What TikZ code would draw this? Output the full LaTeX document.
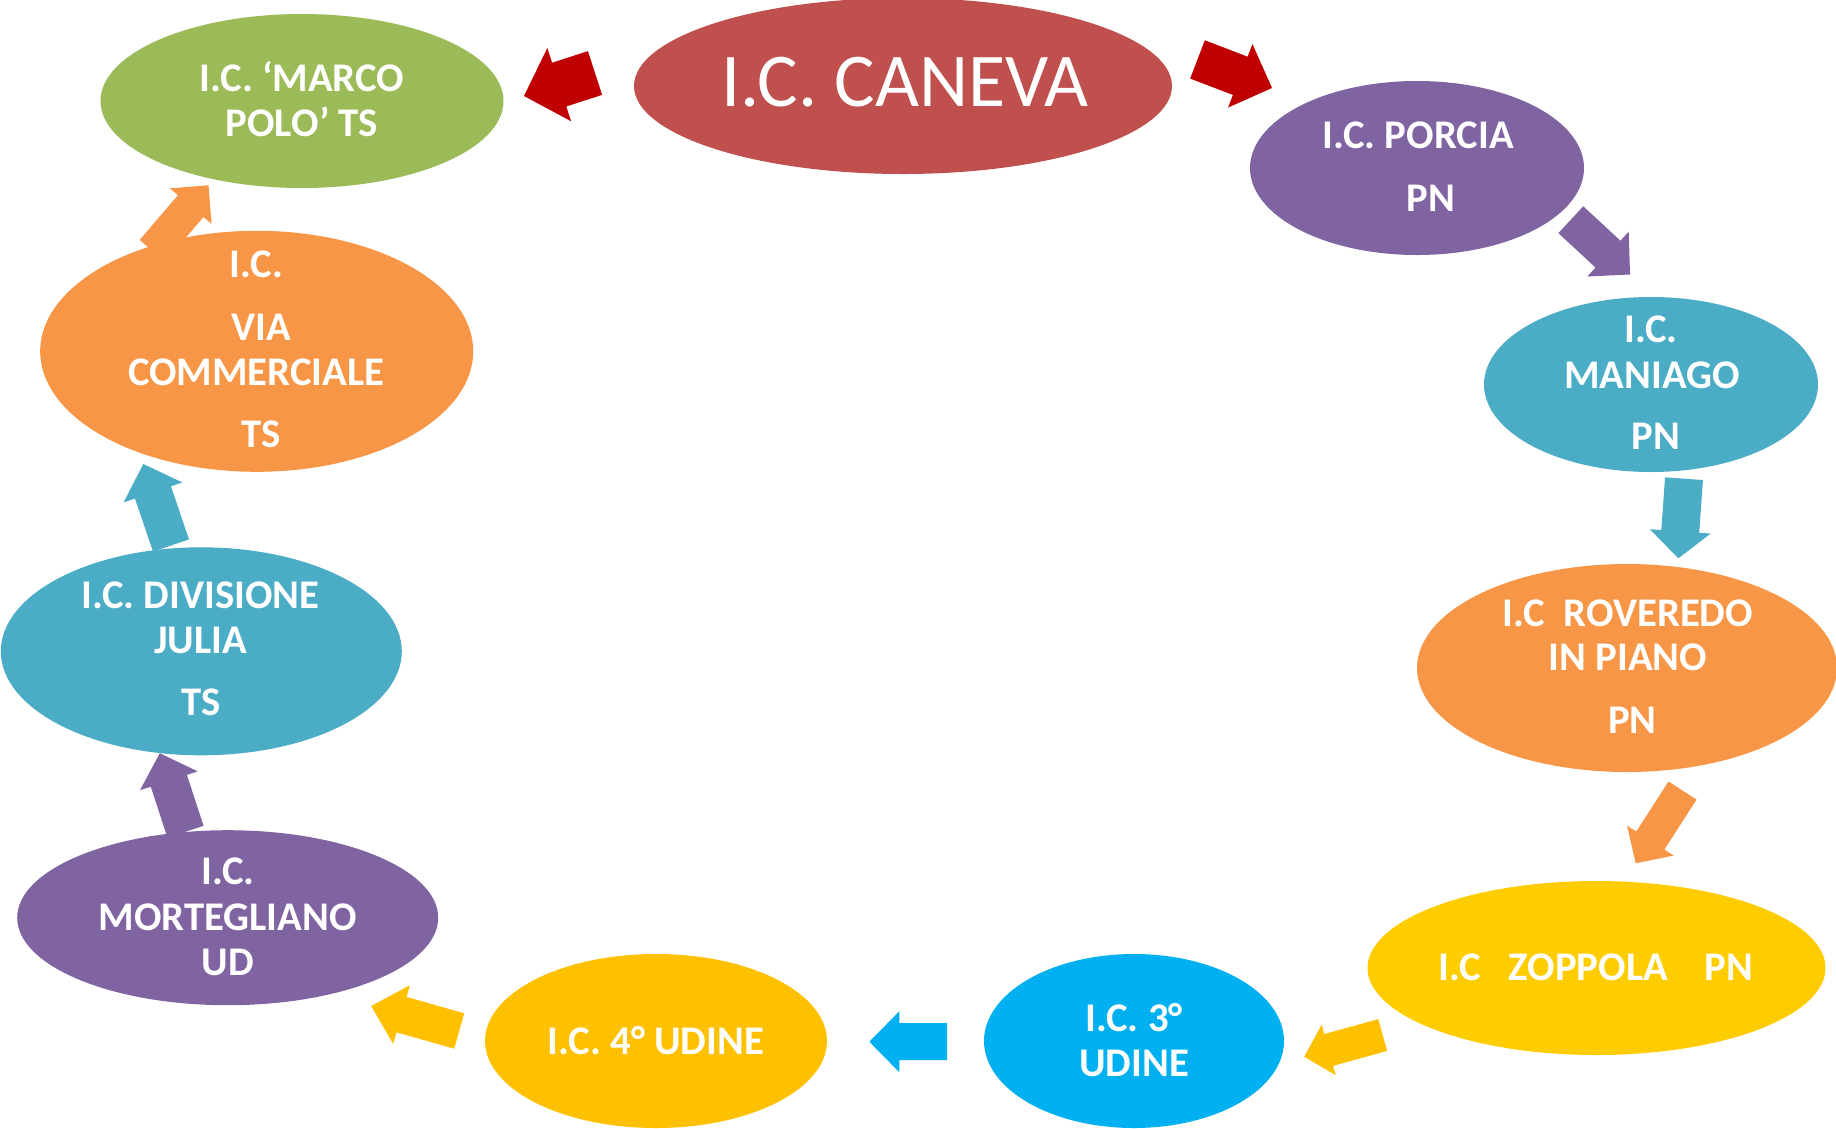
\documentclass[tikz,border=0pt]{standalone}
\usepackage{fontspec}
\setmainfont{Carlito}
\usetikzlibrary{shapes.geometric,calc}
\definecolor{cgreen}{HTML}{9BBB59}
\definecolor{cred}{HTML}{C0504D}
\definecolor{cdarkred}{HTML}{C00000}
\definecolor{cpurple}{HTML}{8064A2}
\definecolor{cteal}{HTML}{4BACC6}
\definecolor{corange}{HTML}{F79646}
\definecolor{cyellow}{HTML}{FFCC00}
\definecolor{camber}{HTML}{FFC000}
\definecolor{ccyan}{HTML}{00B0F0}
\newcommand\blockarr[6]{%
  \coordinate (hb) at ($(#3)!#6pt!(#2)$);
  \fill[#1] ($(#2)!#4pt!90:(#3)$) -- ($(hb)!#4pt!-90:(#2)$) -- ($(hb)!#5pt!-90:(#2)$) -- (#3)
     -- ($(hb)!#5pt!90:(#2)$) -- ($(hb)!#4pt!90:(#2)$) -- ($(#2)!#4pt!-90:(#3)$) -- cycle;
}
\begin{document}
\begin{tikzpicture}[x=1pt,y=-1pt,
  oval/.style={ellipse, inner sep=0pt, draw=none},
  lbl/.style={text=white, font=\bfseries\fontsize{40.7}{48}\selectfont, anchor=base, inner sep=0pt}]
\useasboundingbox (0,0) rectangle (1836,1128);
\fill[white] (0,0) rectangle (1836,1128);
\begin{scope}
\clip (0,0) rectangle (1836,1128);
% ellipses
\node[oval, fill=cgreen,  minimum width=403pt, minimum height=174pt] (marco) at (302,101) {};
\node[oval, fill=cred,    minimum width=538pt, minimum height=176pt] (caneva) at (903,86) {};
\node[oval, fill=cpurple, minimum width=334pt, minimum height=174pt] (porcia) at (1417,168) {};
\node[oval, fill=cteal,   minimum width=334pt, minimum height=175pt] (maniago) at (1651,384.5) {};
\node[oval, fill=corange, minimum width=420pt, minimum height=208pt] (roveredo) at (1627,668) {};
\node[oval, fill=cyellow, minimum width=458pt, minimum height=174pt] (zoppola) at (1596.5,968) {};
\node[oval, fill=ccyan,   minimum width=300pt, minimum height=174pt] (udinetre) at (1134,1041) {};
\node[oval, fill=camber,  minimum width=342pt, minimum height=174pt] (udinequattro) at (656,1041) {};
\node[oval, fill=cpurple, minimum width=421pt, minimum height=175pt] (mort) at (227.7,917.7) {};
\node[oval, fill=cteal,   minimum width=401pt, minimum height=208pt] (divis) at (201.3,651.3) {};
\node[oval, fill=corange, minimum width=433pt, minimum height=241pt] (viacomm) at (256.7,351.3) {};
% arrow end points
\coordinate (a1s) at (595,73);      \coordinate (a1e) at (524,96);
\coordinate (a2s) at (1197.5,59.4); \coordinate (a2e) at (1272,88);
\coordinate (a3s) at (1570.8,219.7);\coordinate (a3e) at (1630,274.5);
\coordinate (a4s) at (1684,478.7);  \coordinate (a4e) at (1678.3,558.3);
\coordinate (a5s) at (1682.5,790.5);\coordinate (a5e) at (1635.7,863.3);
\coordinate (a6s) at (1382.7,1035); \coordinate (a6e) at (1304.2,1056.7);
\coordinate (a7s) at (947,1041.7);  \coordinate (a7e) at (869.3,1041.7);
\coordinate (a8s) at (459.2,1031);  \coordinate (a8e) at (371.2,1006);
\coordinate (a9s) at (185.5,831.7); \coordinate (a9e) at (159.8,753.2);
\coordinate (a10s) at (171,545.5);  \coordinate (a10e) at (143.3,464);
\coordinate (a11s) at (152.5,250.8);\coordinate (a11e) at (208.5,185.3);
% arrows
\blockarr{cdarkred}{a1s}{a1e}{23}{38.5}{37}
\blockarr{cdarkred}{a2s}{a2e}{20.5}{34}{34}
\blockarr{cpurple}{a3s}{a3e}{18.3}{30.5}{30}
\blockarr{cteal}{a4s}{a4e}{19}{30.5}{27}
\blockarr{corange}{a5s}{a5e}{16.7}{27.7}{27}
\blockarr{camber}{a6s}{a6e}{16.5}{26.2}{25.4}
\blockarr{ccyan}{a7s}{a7e}{18.5}{30.5}{30}
\blockarr{camber}{a8s}{a8e}{18.4}{30.5}{31.5}
\blockarr{cpurple}{a9s}{a9e}{19}{30.3}{29}
\blockarr{cteal}{a10s}{a10e}{19}{31}{30}
\blockarr{corange}{a11s}{a11e}{16.8}{27.4}{27.4}
% texts
\node[lbl] (t1a) at (302,91) {I.C. ‘MARCO};
\node[lbl] (t1b) at (302,136) {POLO’ TS};
\node[text=white, font=\fontsize{76}{80}\selectfont, anchor=base, inner sep=0pt] (t2a) at (905,106) {I.C. CANEVA};
\node[lbl] (t3a) at (1418,148.3) {I.C. PORCIA};
\node[lbl] (t3b) at (1431,211.7) {PN};
\node[lbl] (t4a) at (1651,342) {I.C.};
\node[lbl] (t4b) at (1652,388) {MANIAGO};
\node[lbl] (t4c) at (1656,449) {PN};
\node[lbl] (t5a) at (1628,626) {I.C~~ROVEREDO};
\node[lbl] (t5b) at (1628,670.7) {IN PIANO};
\node[lbl] (t5c) at (1632.5,733.3) {PN};
\node[lbl] (t6a) at (1596,980) {I.C~~~ZOPPOLA~~~~PN};
\node[lbl] (t7a) at (1134,1031) {I.C. 3°};
\node[lbl] (t7b) at (1134,1076) {UDINE};
\node[lbl] (t8a) at (656,1054) {I.C. 4° UDINE};
\node[lbl] (t9a) at (228,884.3) {I.C.};
\node[lbl] (t9b) at (227.5,930) {MORTEGLIANO};
\node[lbl] (t9c) at (228,975) {UD};
\node[lbl] (t10a) at (200.5,608.6) {I.C. DIVISIONE};
\node[lbl] (t10b) at (200.5,653.8) {JULIA};
\node[lbl] (t10c) at (200.8,715.8) {TS};
\node[lbl] (t11a) at (256.3,277.6) {I.C.};
\node[lbl] (t11b) at (261.5,340.7) {VIA};
\node[lbl] (t11c) at (256.3,385.9) {COMMERCIALE};
\node[lbl] (t11d) at (260.8,447.9) {TS};
\end{scope}
\end{tikzpicture}
\end{document}
